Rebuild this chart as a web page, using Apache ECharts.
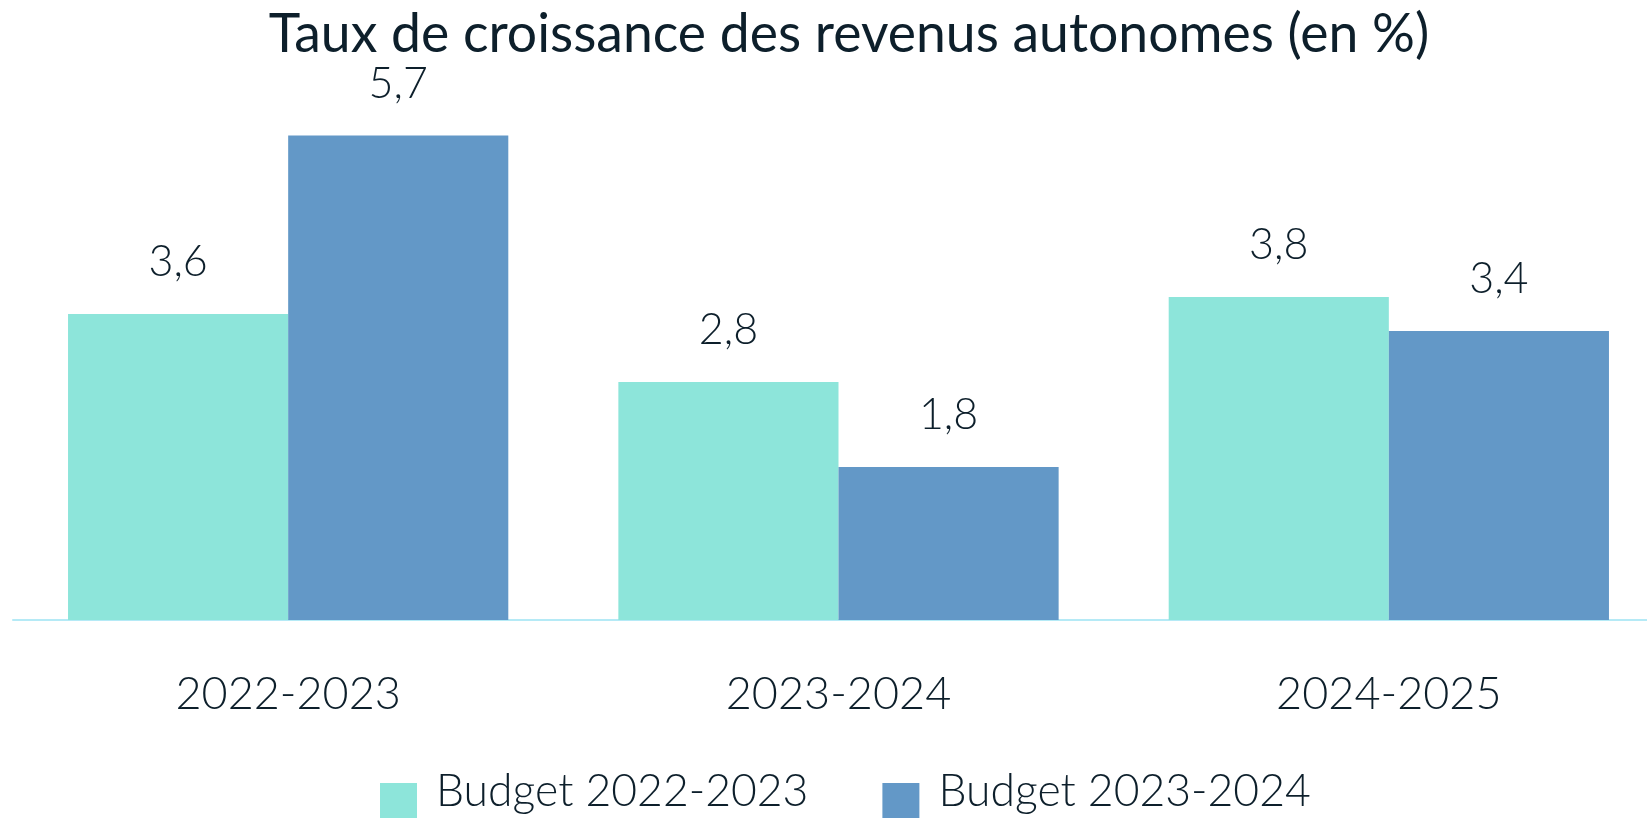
<!DOCTYPE html>
<html>
<head>
<meta charset="utf-8">
<script src="https://cdn.jsdelivr.net/npm/echarts@6/dist/echarts.min.js"></script>
<style>
  html, body { margin: 0; padding: 0; background: #fff; overflow: hidden; }
  #chart { width: 1664px; height: 818px; }
</style>
</head>
<body>
<div id="chart"></div>
<script>
const categories = ['2022-2023', '2023-2024', '2024-2025']
const seriesNames = ['Budget 2022-2023', 'Budget 2023-2024']
const budget2022 = [3.6, 2.8, 3.8]
const budget2023 = [5.7, 1.8, 3.4]

const chart = echarts.init(document.getElementById('chart'))
const font = 'Lato'
const textColor = '#0d1f2b'

// étiquettes au-dessus des barres, virgule décimale
const label = {
  show: true,
  position: 'top',
  distance: 30,
  fontFamily: font,
  fontWeight: 300,
  fontSize: 43,
  color: textColor,
  formatter: (p) => String(p.value).replace('.', ',')
}

const option = {
  animation: false,
  title: {
    text: 'Taux de croissance des revenus autonomes (en %)',
    left: 844,
    textAlign: 'center',
    top: 3,
    textStyle: {
      fontFamily: font,
      fontWeight: 'normal',
      fontSize: 53.5,
      color: textColor
    }
  },
  legend: {
    data: seriesNames,
    left: 375,
    top: 759,
    itemWidth: 37,
    itemHeight: 56,
    itemGap: 74,
    // carré décalé vers le bas par rapport au texte
    icon: 'path://M0,0L0,0M0,19H37V56H0Z',
    textStyle: {
      fontFamily: font,
      fontWeight: 300,
      fontSize: 44.5,
      color: textColor,
      padding: [0, 0, 0, 14]
    }
  },
  grid: {
    left: 13,
    right: 0,
    top: 110,
    bottom: 198
  },
  xAxis: {
    type: 'category',
    data: categories,
    axisLine: { lineStyle: { color: '#b5eaf6', width: 2 } },
    axisTick: { show: false },
    axisLabel: {
      margin: 52,
      fontFamily: font,
      fontWeight: 300,
      fontSize: 45,
      color: textColor
    }
  },
  yAxis: {
    type: 'value',
    min: 0,
    max: 6,
    show: false
  },
  series: [
    {
      name: seriesNames[0],
      type: 'bar',
      data: budget2022,
      barGap: 0,
      barCategoryGap: '20%',
      itemStyle: { color: '#8de5da' },
      label
    },
    {
      name: seriesNames[1],
      type: 'bar',
      data: budget2023,
      itemStyle: { color: '#6398c7' },
      label
    }
  ]
}

chart.setOption(option)
</script>
</body>
</html>
